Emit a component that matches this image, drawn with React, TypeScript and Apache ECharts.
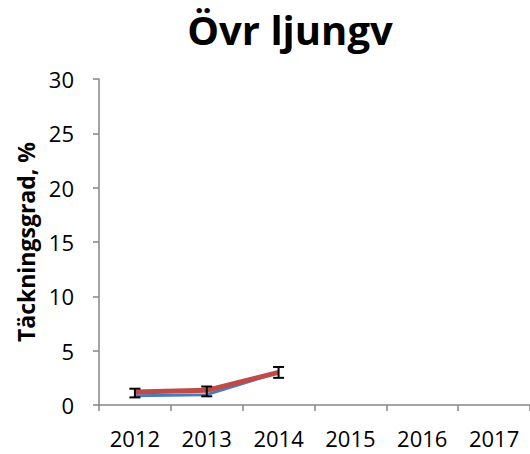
import React, { useEffect, useRef } from "react";
import * as echarts from "echarts";

const years = ["2012", "2013", "2014", "2015", "2016", "2017"];
const blueValues = [0.85, 0.95, 3.0, null, null, null];
const redValues = [1.2, 1.35, 3.0, null, null, null];
const errLow = [0.7, 0.8, 2.5];
const errHigh = [1.5, 1.7, 3.5];
const yTicks = [0, 5, 10, 15, 20, 25, 30];

export default function App() {
  const ref = useRef<HTMLDivElement>(null);
  useEffect(() => {
    if (!ref.current) return;
    const chart = echarts.init(ref.current, null, { renderer: "svg" });
    const errData = errLow.map((lo, i) => [i, lo, errHigh[i]]);
    chart.setOption({
      animation: false,
      backgroundColor: "#ffffff",
      title: {
        text: "Övr ljungv",
        left: 285,
        top: 4,
        textAlign: "center",
        textStyle: { fontFamily: "Open Sans", fontWeight: "bold", fontSize: 40, color: "#000" },
      },
      grid: { left: 99, right: -7, top: 79, bottom: 49, containLabel: false },
      xAxis: {
        type: "category",
        data: years,
        boundaryGap: true,
        axisLine: { lineStyle: { color: "#868686", width: 1.5 } },
        axisTick: { show: true, length: 6, lineStyle: { color: "#868686", width: 1.5 } },
        axisLabel: { fontFamily: "Open Sans", fontSize: 22, color: "#000", margin: 22 },
        splitLine: { show: false },
      },
      yAxis: {
        type: "value",
        min: 0,
        max: yTicks[yTicks.length - 1],
        interval: 5,
        name: "Täckningsgrad, %",
        nameLocation: "middle",
        nameGap: 56,
        nameTextStyle: { fontFamily: "Open Sans", fontWeight: "bold", fontSize: 23, color: "#000" },
        axisLine: { show: true, lineStyle: { color: "#868686", width: 1.5 } },
        axisTick: { show: true, length: 6, lineStyle: { color: "#868686", width: 1.5 } },
        axisLabel: { fontFamily: "Open Sans", fontSize: 22, color: "#000", margin: 25 },
        splitLine: { show: false },
      },
      series: [
        {
          type: "line",
          data: blueValues,
          symbol: "none",
          lineStyle: { color: "#4a7ebb", width: 3 },
          z: 2,
        },
        {
          type: "line",
          data: redValues,
          symbol: "none",
          lineStyle: { color: "#be4b48", width: 5 },
          z: 3,
        },
        {
          type: "custom",
          data: errData,
          z: 4,
          renderItem: (params: any, api: any) => {
            const x = api.value(0);
            const lo = api.coord([x, api.value(1)]);
            const hi = api.coord([x, api.value(2)]);
            const half = 5.5;
            const style = { stroke: "#000", lineWidth: 2, fill: "none" };
            return {
              type: "group",
              children: [
                { type: "line", shape: { x1: lo[0], y1: lo[1], x2: hi[0], y2: hi[1] }, style },
                { type: "line", shape: { x1: lo[0] - half, y1: lo[1], x2: lo[0] + half, y2: lo[1] }, style },
                { type: "line", shape: { x1: hi[0] - half, y1: hi[1], x2: hi[0] + half, y2: hi[1] }, style },
              ],
            };
          },
        },
      ],
    });
    return () => chart.dispose();
  }, []);
  return (
    <div
      ref={ref}
      style={{ position: "fixed", left: 0, top: 0, width: 530, height: 454 }}
    />
  );
}
